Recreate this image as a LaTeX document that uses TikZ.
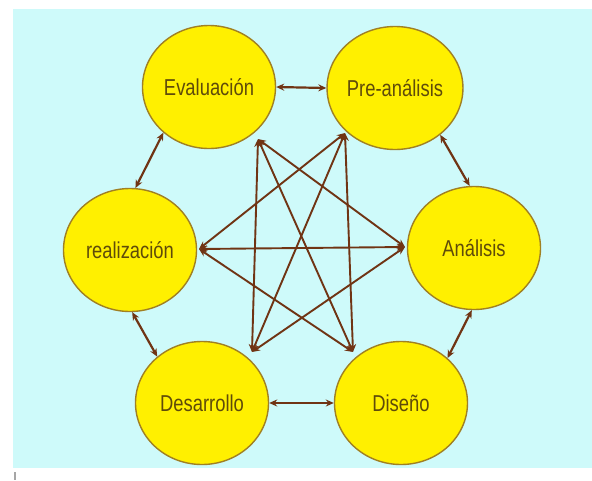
\documentclass[tikz,border=0pt]{standalone}
\usepackage{fontspec}
\newfontfamily\labfont[FakeStretch=0.8]{Liberation Sans}
\usetikzlibrary{shapes.geometric,arrows.meta,calc}
\definecolor{bgc}{RGB}{206,250,250}
\definecolor{yel}{RGB}{255,240,0}
\definecolor{rim}{RGB}{160,128,35}
\definecolor{lnk}{RGB}{112,52,20}
\definecolor{txt}{RGB}{95,75,10}
\begin{document}
\begin{tikzpicture}[x=1pt,y=-1pt,
  phase/.style={ellipse, draw=rim, line width=1.4pt, fill=yel,
    minimum width=133pt, minimum height=123pt, inner sep=0pt,
    font=\labfont\fontsize{23}{26}\selectfont, text=txt},
  link/.style={draw=lnk, line width=2.2pt,
    {Stealth[length=8pt,width=7pt]}-{Stealth[length=8pt,width=7pt]}},
  cross/.style={link, line width=1.9pt}]
\useasboundingbox (0,0) rectangle (592,480);
\fill[white] (0,0) rectangle (592,480);
\fill[bgc] (13,9) rectangle (592,468);
\fill[gray!70] (14,472) rectangle (16,480);

\node[phase] (E) at (209,87) {Evaluación};
\node[phase] (P) at (395,88) {Pre-análisis};
\node[phase] (R) at (130,250) {realización};
\node[phase] (A) at (474,248) {Análisis};
\node[phase] (D) at (202,403) {Desarrollo};
\node[phase] (S) at (401,403) {Diseño};

% outer ring
\draw[link] (E.east) -- (P.west);
\draw[link] (E.225) -- (R.85);
\draw[link] (P.314) -- (A.94);
\draw[link] (A.268) -- (S.44);
\draw[link] (R.272) -- (D.134);
\draw[link] (D.east) -- (S.west);

% inner ports
\coordinate (Ep) at (258,139);
\coordinate (Pp) at (345,133);
\coordinate (Rp) at (199,249);
\coordinate (Ap) at (405,247);
\coordinate (Dp) at (252,352);
\coordinate (Sp) at (353,352);

\draw[cross] (Ep) -- (Dp);
\draw[cross] (Ep) -- (Sp);
\draw[cross] (Ep) -- (Ap);
\draw[cross] (Pp) -- (Sp);
\draw[cross] (Pp) -- (Dp);
\draw[cross] (Pp) -- (Rp);
\draw[cross] (Rp) -- (Ap);
\draw[cross] (Rp) -- (Sp);
\draw[cross] (Ap) -- (Dp);
\end{tikzpicture}
\end{document}
